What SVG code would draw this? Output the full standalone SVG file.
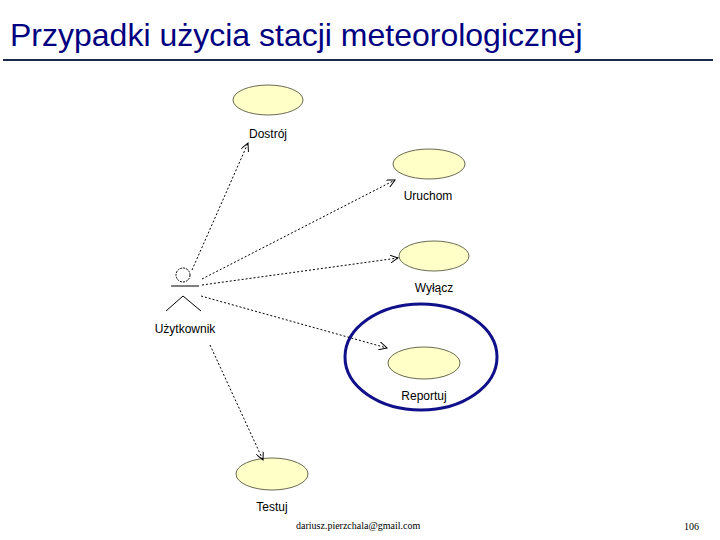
<svg xmlns="http://www.w3.org/2000/svg" width="720" height="540" viewBox="0 0 720 540">
<defs>
<style>
.uc{fill:#ffffc8;stroke:#6a6a50;stroke-width:1}
.lbl{font-family:"Liberation Sans",Arial,sans-serif;font-size:12px;fill:#000;text-anchor:middle}
.con{stroke:#000;stroke-width:1;stroke-dasharray:2,2;fill:none}
.foot{font-family:"Liberation Serif","Times New Roman",serif;font-size:10px;fill:#000}
</style>
<marker id="arr" markerWidth="10" markerHeight="8" refX="8" refY="4" orient="auto" markerUnits="userSpaceOnUse">
<path d="M0,0 L8,4 L0,8" fill="none" stroke="#000" stroke-width="1"/>
</marker>
</defs>
<rect width="720" height="540" fill="#fff"/>
<text x="10" y="46" font-family="Liberation Sans,Arial,sans-serif" font-size="32" fill="#000080">Przypadki użycia stacji meteorologicznej</text>
<line x1="3" y1="60" x2="713" y2="60" stroke="#1a2a4a" stroke-width="2"/>

<g id="actor">
<circle cx="183" cy="275" r="7" fill="none" stroke="#000" stroke-width="1" stroke-dasharray="2,1"/>
<line x1="171" y1="286" x2="199" y2="286" stroke="#000"/>
<path d="M166,311 L183,296 L201,311" fill="none" stroke="#000"/>
<text x="185" y="333" class="lbl" font-size="13">Użytkownik</text>
</g>

<g id="dostroj">
<ellipse class="uc" cx="268" cy="100" rx="35" ry="15"/>
<text x="268" y="138" class="lbl">Dostrój</text>
</g>
<g id="uruchom">
<ellipse class="uc" cx="429" cy="164" rx="36" ry="15"/>
<text x="428" y="200" class="lbl">Uruchom</text>
</g>
<g id="wylacz">
<ellipse class="uc" cx="434" cy="256" rx="35" ry="15"/>
<text x="434" y="292" class="lbl">Wyłącz</text>
</g>
<g id="raportuj">
<ellipse cx="421" cy="357" rx="76" ry="53" fill="none" stroke="#10108a" stroke-width="3"/>
<ellipse class="uc" cx="424" cy="363" rx="36" ry="16"/>
<text x="424" y="400" class="lbl">Reportuj</text>
</g>
<g id="testuj">
<ellipse class="uc" cx="272" cy="474" rx="36" ry="16"/>
<text x="272" y="511" class="lbl">Testuj</text>
</g>

<g id="connectors">
<line class="con" x1="192" y1="270" x2="248" y2="143" marker-end="url(#arr)"/>
<line class="con" x1="202" y1="279" x2="395" y2="180" marker-end="url(#arr)"/>
<line class="con" x1="202" y1="285" x2="398" y2="258" marker-end="url(#arr)"/>
<line class="con" x1="201" y1="296" x2="387" y2="348" marker-end="url(#arr)"/>
<line class="con" x1="210" y1="345" x2="263" y2="460" marker-end="url(#arr)"/>
</g>

<text x="296" y="529" class="foot">dariusz.pierzchala@gmail.com</text>
<text x="684" y="530" class="foot">106</text>
</svg>
